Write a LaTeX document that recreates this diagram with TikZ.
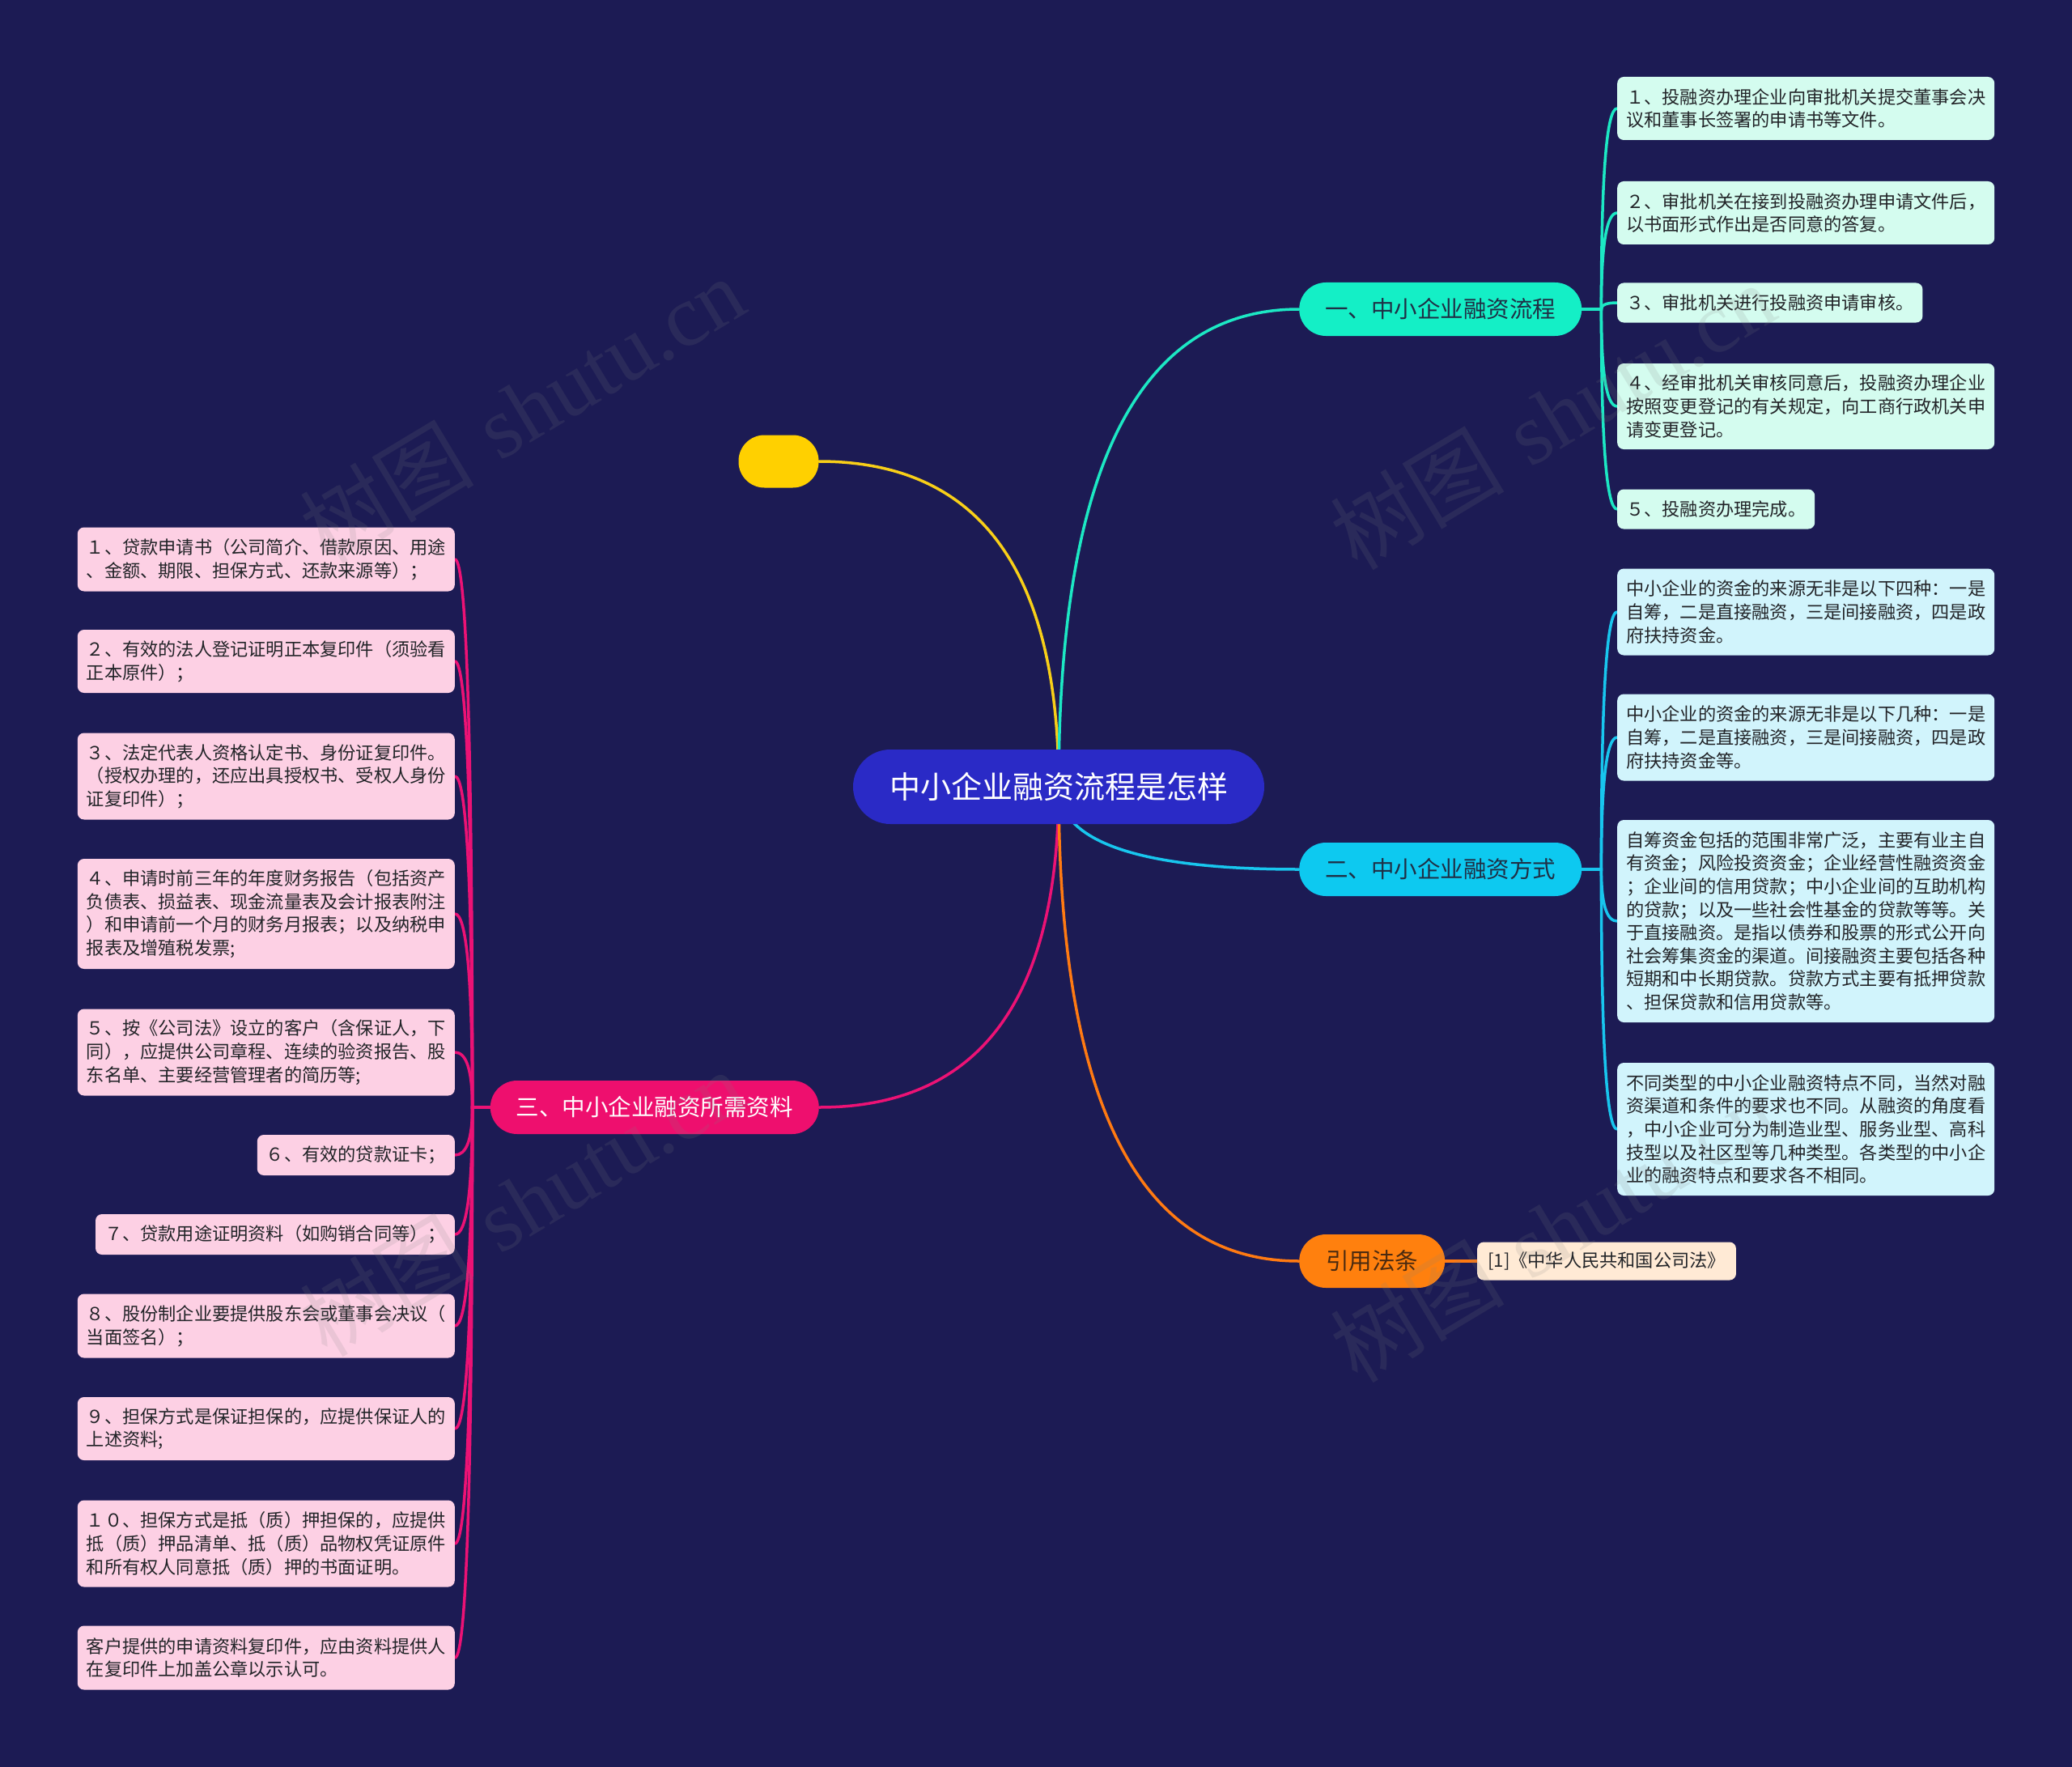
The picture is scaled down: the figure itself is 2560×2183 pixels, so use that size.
\documentclass[tikz,border=0pt]{standalone}
\usepackage{fontspec}
\usetikzlibrary{calc}
\newfontfamily\cjk{Noto Sans CJK SC}
\newfontfamily\wmlat{Liberation Serif}
\pgfdeclarelayer{bglayer}
\pgfdeclarelayer{links}
\pgfdeclarelayer{fglayer}
\pgfsetlayers{bglayer,links,main,fglayer}
\definecolor{bgc}{HTML}{1C1B54}
\definecolor{rootc}{HTML}{2A2AC6}
\definecolor{yelc}{HTML}{FFD000}
\definecolor{b1c}{HTML}{14EFC6}
\definecolor{b2c}{HTML}{0DC9F0}
\definecolor{b3c}{HTML}{EE0F6E}
\definecolor{b4c}{HTML}{FF800E}
\definecolor{l1c}{HTML}{D4FCEF}
\definecolor{l2c}{HTML}{D1F4FC}
\definecolor{l3c}{HTML}{FDD0E4}
\definecolor{l4c}{HTML}{FFEAD5}
\definecolor{k0}{HTML}{F8CF18}
\definecolor{k1}{HTML}{1CE8C4}
\definecolor{k2}{HTML}{18C6EE}
\definecolor{k3}{HTML}{EC1275}
\definecolor{k4}{HTML}{FF7A12}
\definecolor{btext}{HTML}{1F2F45}
\definecolor{b4text}{HTML}{4A2A10}
\definecolor{leaft}{HTML}{222428}
\begin{document}
\begin{tikzpicture}[x=1pt,y=-1pt,
  rootbox/.style={fill=rootc,text=white,rounded corners=46,minimum width=508,minimum height=92,inner sep=0,font=\cjk\fontsize{38}{42}\selectfont},
  branchbox/.style={rounded corners=33,minimum height=66,inner xsep=32,inner ysep=0,text=btext,font=\cjk\fontsize{28.5}{32}\selectfont},
  leafbox/.style={rounded corners=8,inner xsep=11,inner ysep=0,align=left,text=leaft,font=\cjk\fontsize{22.2}{28.6}\selectfont},
  widebox/.style={text width=444pt},
  lk/.style={line width=3.5,line cap=round},
  qcurve/.style={to path={.. controls ($(\tikztostart)!0.6667!(\tikztostart |- \tikztotarget)$) and ($(\tikztotarget)!0.6667!(\tikztostart |- \tikztotarget)$) .. (\tikztotarget)}},
  wm/.style={text=gray,opacity=0.15,font=\fontsize{108}{120}\selectfont}
]
\useasboundingbox (0,0) rectangle (2560,2183);
\begin{pgfonlayer}{bglayer}
\fill[bgc] (0,0) rectangle (2560,2183);
\end{pgfonlayer}

% root and branches
\node[rootbox] (root) at (1308,972) {中小企业融资流程是怎样};
\node[fill=yelc,rounded corners=32,minimum width=99,minimum height=65,inner sep=0] (yel) at (962,570) {};
\node[branchbox,fill=b1c,anchor=west] (b1) at (1605,382) {一、中小企业融资流程};
\node[branchbox,fill=b2c,anchor=west] (b2) at (1605,1074) {二、中小企业融资方式};
\node[branchbox,fill=b3c,text=white,anchor=east] (b3) at (1012,1368) {三、中小企业融资所需资料};
\node[branchbox,fill=b4c,text=b4text,anchor=west,minimum width=180] (b4) at (1605,1558) {引用法条};
\node[leafbox,fill=l4c,minimum height=47,minimum width=317,align=center,inner xsep=13,anchor=west] (c1) at (1825,1558) {[1]《中华人民共和国公司法》};

% branch 1 leaves
\node[leafbox,fill=l1c,widebox,minimum height=78,anchor=west] (r1) at (1998,134) {１、投融资办理企业向审批机关提交董事会决\\议和董事长签署的申请书等文件。};
\node[leafbox,fill=l1c,widebox,minimum height=78,anchor=west] (r2) at (1998,263) {２、审批机关在接到投融资办理申请文件后，\\以书面形式作出是否同意的答复。};
\node[leafbox,fill=l1c,minimum height=49,anchor=west] (r3) at (1998,374) {３、审批机关进行投融资申请审核。};
\node[leafbox,fill=l1c,widebox,minimum height=106,anchor=west] (r4) at (1998,502) {４、经审批机关审核同意后，投融资办理企业\\按照变更登记的有关规定，向工商行政机关申\\请变更登记。};
\node[leafbox,fill=l1c,minimum height=49,anchor=west] (r5) at (1998,629) {５、投融资办理完成。};

% branch 2 leaves
\node[leafbox,fill=l2c,widebox,minimum height=107,anchor=west] (m1) at (1998,756) {中小企业的资金的来源无非是以下四种：一是\\自筹，二是直接融资，三是间接融资，四是政\\府扶持资金。};
\node[leafbox,fill=l2c,widebox,minimum height=107,anchor=west] (m2) at (1998,911) {中小企业的资金的来源无非是以下几种：一是\\自筹，二是直接融资，三是间接融资，四是政\\府扶持资金等。};
\node[leafbox,fill=l2c,widebox,minimum height=250,anchor=west] (m3) at (1998,1138) {自筹资金包括的范围非常广泛，主要有业主自\\有资金；风险投资资金；企业经营性融资资金\\；企业间的信用贷款；中小企业间的互助机构\\的贷款；以及一些社会性基金的贷款等等。关\\于直接融资。是指以债券和股票的形式公开向\\社会筹集资金的渠道。间接融资主要包括各种\\短期和中长期贷款。贷款方式主要有抵押贷款\\、担保贷款和信用贷款等。};
\node[leafbox,fill=l2c,widebox,minimum height=164,anchor=west] (m4) at (1998,1395) {不同类型的中小企业融资特点不同，当然对融\\资渠道和条件的要求也不同。从融资的角度看\\，中小企业可分为制造业型、服务业型、高科\\技型以及社区型等几种类型。各类型的中小企\\业的融资特点和要求各不相同。};

% branch 3 leaves
\node[leafbox,fill=l3c,widebox,minimum height=79,anchor=east] (p1) at (562,691) {１、贷款申请书（公司简介、借款原因、用途\\、金额、期限、担保方式、还款来源等）；};
\node[leafbox,fill=l3c,widebox,minimum height=78,anchor=east] (p2) at (562,817) {２、有效的法人登记证明正本复印件（须验看\\正本原件）；};
\node[leafbox,fill=l3c,widebox,minimum height=107,anchor=east] (p3) at (562,959) {３、法定代表人资格认定书、身份证复印件。\\（授权办理的，还应出具授权书、受权人身份\\证复印件）；};
\node[leafbox,fill=l3c,widebox,minimum height=136,anchor=east] (p4) at (562,1129) {４、申请时前三年的年度财务报告（包括资产\\负债表、损益表、现金流量表及会计报表附注\\）和申请前一个月的财务月报表；以及纳税申\\报表及增殖税发票;};
\node[leafbox,fill=l3c,widebox,minimum height=107,anchor=east] (p5) at (562,1300) {５、按《公司法》设立的客户（含保证人，下\\同），应提供公司章程、连续的验资报告、股\\东名单、主要经营管理者的简历等;};
\node[leafbox,fill=l3c,minimum height=50,anchor=east] (p6) at (562,1427) {６、有效的贷款证卡；};
\node[leafbox,fill=l3c,minimum height=50,anchor=east] (p7) at (562,1525) {７、贷款用途证明资料（如购销合同等）；};
\node[leafbox,fill=l3c,widebox,minimum height=79,anchor=east] (p8) at (562,1638) {８、股份制企业要提供股东会或董事会决议（\\当面签名）；};
\node[leafbox,fill=l3c,widebox,minimum height=78,anchor=east] (p9) at (562,1765) {９、担保方式是保证担保的，应提供保证人的\\上述资料;};
\node[leafbox,fill=l3c,widebox,minimum height=107,anchor=east] (p10) at (562,1907) {１０、担保方式是抵（质）押担保的，应提供\\抵（质）押品清单、抵（质）品物权凭证原件\\和所有权人同意抵（质）押的书面证明。};
\node[leafbox,fill=l3c,widebox,minimum height=79,anchor=east] (p11) at (562,2048) {客户提供的申请资料复印件，应由资料提供人\\在复印件上加盖公章以示认可。};

% trunk points
\coordinate (t1) at ([xshift=24]b1.east);
\coordinate (t2) at ([xshift=24]b2.east);
\coordinate (t3) at ([xshift=-22]b3.west);

\begin{pgfonlayer}{links}
\draw[lk,k0] (root.center) to[qcurve] (yel.east);
\draw[lk,k1] (root.center) to[qcurve] (b1.west);
\draw[lk,k2] (root.center) to[qcurve] (b2.west);
\draw[lk,k3] (root.center) to[qcurve] (b3.east);
\draw[lk,k4] (root.center) to[qcurve] (b4.west);
\draw[lk,k4] (b4.east) -- (c1.west);
\foreach \n in {r1,r2,r3,r4,r5}
  \draw[lk,k1] (b1.east) -- (t1) to[qcurve] (\n.west);
\foreach \n in {m1,m2,m3,m4}
  \draw[lk,k2] (b2.east) -- (t2) to[qcurve] (\n.west);
\foreach \n in {p1,p2,p3,p4,p5,p6,p7,p8,p9,p10,p11}
  \draw[lk,k3] (b3.west) -- (t3) to[qcurve] (\n.east);
\end{pgfonlayer}

\begin{pgfonlayer}{fglayer}
\node[wm,rotate=31] (w1) at (645,506) {{\cjk 树图} {\wmlat shutu.cn}};
\node[wm,rotate=31] (w2) at (1918,514) {{\cjk 树图} {\wmlat shutu.cn}};
\node[wm,rotate=31] (w3) at (645,1486) {{\cjk 树图} {\wmlat shutu.cn}};
\node[wm,rotate=31] (w4) at (1918,1518) {{\cjk 树图} {\wmlat shutu.cn}};
\end{pgfonlayer}
\end{tikzpicture}
\end{document}
